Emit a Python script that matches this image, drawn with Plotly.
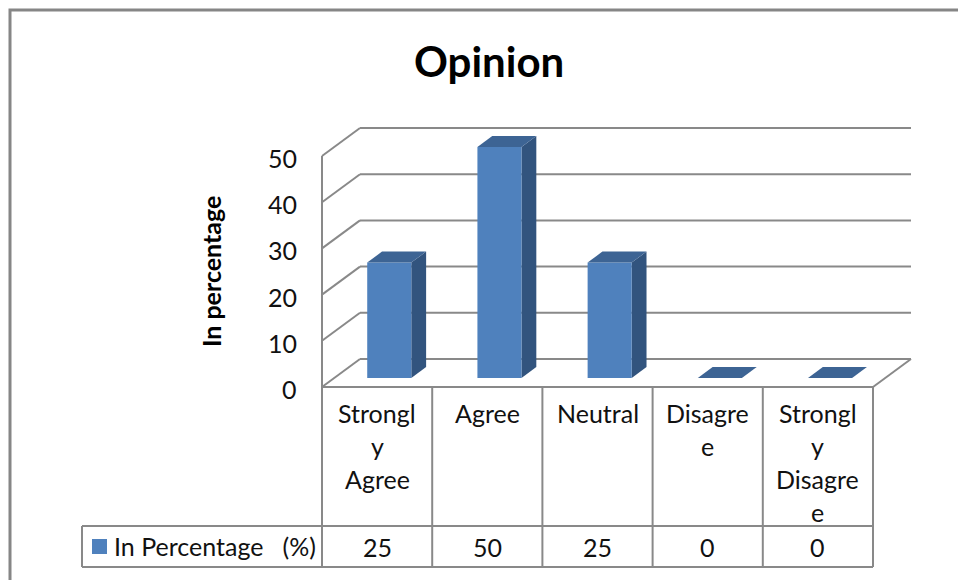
import plotly.graph_objects as go

# ---- data -----------------------------------------------------------------
categories = ["Strongly Agree", "Agree", "Neutral", "Disagree", "Strongly Disagree"]
values = [25, 50, 25, 0, 0]
y_ticks = [0, 10, 20, 30, 40, 50]
series_name = "In Percentage\u00a0\u00a0\u00a0(%)"
chart_title = "Opinion"
y_title = "In percentage"

# ---- layout geometry (pixels) --------------------------------------------
W, H = 958, 580
FRONT_LEFT_PX = 322      # left edge of the front plane
CAT_PX = 110.2           # width of one category column
BASE_PX = 387            # value 0 on the front plane
UNIT_PX = 4.62           # pixels per value unit
DEPTH_PX = (38, 28)      # projection of the full plot depth

TABLE_HEAD_BOTTOM = 526
TABLE_BOTTOM = 567
LEGEND_LEFT = 82
WRAP = 7                 # characters per line in the category header cells

FONT = "Lato"
TXT = "#111111"
GRID = "#898989"
FRONT_C, SIDE_C, TOP_C = "#4F81BD", "#32547E", "#3D6494"
FS = 25


def cat_from_px(px):
    return (px - FRONT_LEFT_PX) / CAT_PX - 0.5


def val_from_px(py):
    return (BASE_PX - py) / UNIT_PX


def xp(px):
    return px / W


def yp(py):
    return 1 - py / H


DX = DEPTH_PX[0] / CAT_PX
DY = DEPTH_PX[1] / UNIT_PX
N = len(categories)
BAR_W = 0.4
F0, F1 = 0.32, 0.71      # bar front / back depth fractions


def wrap(label):
    out = []
    for word in label.split():
        out += [word[k:k + WRAP] for k in range(0, len(word), WRAP)]
    return out


fig = go.Figure()
shapes = []
annotations = []


def line(x0, y0, x1, y1, color=GRID, width=2, xref="x", yref="y"):
    shapes.append(dict(type="line", x0=x0, y0=y0, x1=x1, y1=y1, xref=xref, yref=yref,
                       line=dict(color=color, width=width), layer="below"))


# back wall gridlines with their left-wall diagonals
x_front = -0.5
x_back_l = -0.5 + DX
x_back_r = N - 0.5 + DX
for t in y_ticks:
    line(x_front, t, x_back_l, t + DY)
    line(x_back_l, t + DY, x_back_r, t + DY)
    annotations.append(dict(x=x_front, y=t, xref="x", yref="y", text=str(t), showarrow=False,
                            xanchor="right", yanchor="middle", xshift=-23, yshift=-2,
                            font=dict(family=FONT, size=FS, color=TXT)))
# front vertical axis and floor edges
line(x_front, 0, x_front, max(y_ticks))
line(x_front, 0, N - 0.5, 0)
line(N - 0.5, 0, N - 0.5 + DX, DY)


def face(points, color):
    xs = [p[0] for p in points] + [points[0][0]]
    ys = [p[1] for p in points] + [points[0][1]]
    fig.add_trace(go.Scatter(x=xs, y=ys, mode="lines", fill="toself", fillcolor=color,
                             line=dict(width=0, color=color), hoverinfo="skip",
                             showlegend=False))


for i, v in enumerate(values):
    xl, xr = i - BAR_W / 2, i + BAR_W / 2

    def pt(x, y, f):
        return (x + f * DX, y + f * DY)

    if v > 0:
        face([pt(xr, 0, F0), pt(xr, 0, F1), pt(xr, v, F1), pt(xr, v, F0)], SIDE_C)
        face([pt(xl, 0, F0), pt(xr, 0, F0), pt(xr, v, F0), pt(xl, v, F0)], FRONT_C)
    face([pt(xl, v, F0), pt(xr, v, F0), pt(xr, v, F1), pt(xl, v, F1)], TOP_C)

# ---- data table -----------------------------------------------------------
head_top = yp(BASE_PX)
head_bot = yp(TABLE_HEAD_BOTTOM)
tab_bot = yp(TABLE_BOTTOM)
for k in range(N + 1):
    line(k - 0.5, head_top, k - 0.5, tab_bot, yref="paper")
line(xp(LEGEND_LEFT), head_bot, xp(FRONT_LEFT_PX + N * CAT_PX), head_bot, xref="paper", yref="paper")
line(xp(LEGEND_LEFT), tab_bot, xp(FRONT_LEFT_PX + N * CAT_PX), tab_bot, xref="paper", yref="paper")
line(xp(LEGEND_LEFT), head_bot, xp(LEGEND_LEFT), tab_bot, xref="paper", yref="paper")

for i, (c, v) in enumerate(zip(categories, values)):
    for j, part in enumerate(wrap(c)):
        annotations.append(dict(x=i, y=yp(413 + 33 * j), xref="x", yref="paper", text=part,
                                showarrow=False, xanchor="center", yanchor="middle",
                                font=dict(family=FONT, size=FS, color=TXT)))
    annotations.append(dict(x=i, y=yp(547), xref="x", yref="paper", text=str(v),
                            showarrow=False, xanchor="center", yanchor="middle",
                            font=dict(family=FONT, size=FS, color=TXT)))

# legend key inside the table
shapes.append(dict(type="rect", xref="paper", yref="paper", x0=xp(92), x1=xp(107),
                   y0=yp(539), y1=yp(554), fillcolor=FRONT_C, line=dict(width=0)))
annotations.append(dict(x=xp(112), y=yp(546), xref="paper", yref="paper", text=series_name,
                        showarrow=False, xanchor="left", yanchor="middle",
                        font=dict(family=FONT, size=FS, color=TXT)))

# titles
annotations.append(dict(x=xp(489), y=yp(61), xref="paper", yref="paper",
                        text="<b>%s</b>" % chart_title, showarrow=False,
                        xanchor="center", yanchor="middle",
                        font=dict(family=FONT, size=42, color="#000000")))
annotations.append(dict(x=xp(211), y=yp(272), xref="paper", yref="paper",
                        text="<b>%s</b>" % y_title, showarrow=False, textangle=-90,
                        xanchor="center", yanchor="middle",
                        font=dict(family=FONT, size=25, color="#000000")))

# outer chart border
shapes.append(dict(type="rect", xref="paper", yref="paper", x0=xp(10), y0=yp(10),
                   x1=xp(990), y1=yp(600), line=dict(color="#868686", width=3),
                   layer="below"))

fig.update_layout(
    width=W, height=H,
    margin=dict(l=0, r=0, t=0, b=0),
    paper_bgcolor="white", plot_bgcolor="white",
    xaxis=dict(range=[cat_from_px(0), cat_from_px(W)], domain=[0, 1], visible=False,
               fixedrange=True),
    yaxis=dict(range=[val_from_px(H), val_from_px(0)], domain=[0, 1], visible=False,
               fixedrange=True),
    shapes=shapes,
    annotations=annotations,
    showlegend=False,
)

fig.write_html("out.html")
